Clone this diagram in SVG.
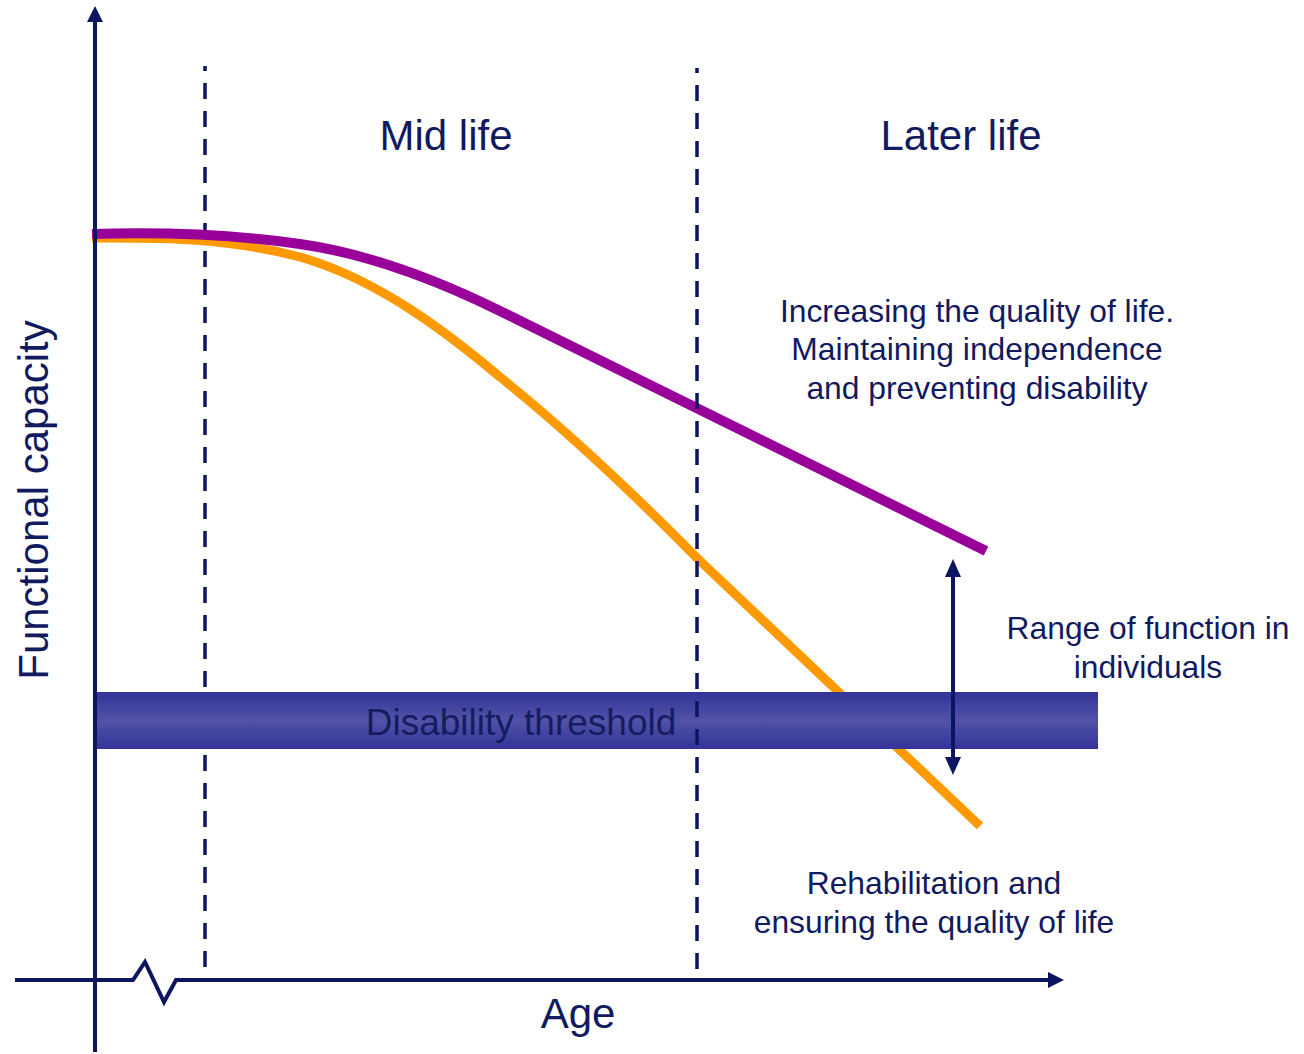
<svg xmlns="http://www.w3.org/2000/svg" width="1304" height="1054" viewBox="0 0 1304 1054">
  <style>
    .lbl { font-family: "Liberation Sans", Arial, sans-serif; fill: #111a5f; text-anchor: middle; }
    .big { font-size: 42px; }
    .mid { font-size: 31.8px; }
    .axis { stroke: #0c1660; stroke-width: 4; fill: none; }
    .dash { stroke: #0c1660; stroke-width: 3.5; stroke-dasharray: 16 12; stroke-dashoffset: 11; fill: none; }
    .head { fill: #0c1660; }
  </style>
  <defs>
    <linearGradient id="band" x1="0" y1="0" x2="0" y2="1">
      <stop offset="0" stop-color="#333399"/>
      <stop offset="0.5" stop-color="#5252a8"/>
      <stop offset="1" stop-color="#333399"/>
    </linearGradient>
  </defs>
  <rect width="1304" height="1054" fill="#ffffff"/>

  <g id="divider-left">
    <line class="dash" x1="205" y1="66" x2="205" y2="970"/>
  </g>

  <g id="curve-orange">
    <path d="M92,238 C150,238 220,236 300,257 C380,280 450,335 500,377 C560,425 620,480 697,558 L980,826" fill="none" stroke="#ff9900" stroke-width="9"/>
  </g>

  <g id="threshold">
    <rect x="94" y="692" width="1004" height="57" fill="url(#band)"/>
    <text class="lbl" x="521" y="735" font-size="37" style="fill:#151c60">Disability threshold</text>
  </g>

  <g id="curve-purple">
    <path d="M92,234 C160,232 230,234 300,244 C370,254 440,281.4 500,311 L986,551" fill="none" stroke="#990099" stroke-width="10"/>
  </g>

  <g id="divider-right">
    <line class="dash" x1="697" y1="68" x2="697" y2="972"/>
  </g>

  <g id="connectors">
    <g id="y-axis">
      <line class="axis" x1="95" y1="1052" x2="95" y2="19"/>
      <polygon class="head" points="95,6 87,22 103,22"/>
    </g>
    <g id="x-axis">
      <polyline class="axis" points="15,980 133,980 145,962 164,1002 176,980 1051,980"/>
      <polygon class="head" points="1064,980 1048,972 1048,988"/>
    </g>
    <g id="range-arrow">
      <line class="axis" x1="953" y1="574" x2="953" y2="760"/>
      <polygon class="head" points="953,559 945,577 961,577"/>
      <polygon class="head" points="953,775 945,757 961,757"/>
    </g>
  </g>

  <g id="label-midlife">
    <text class="lbl big" x="446" y="150">Mid life</text>
  </g>
  <g id="label-laterlife">
    <text class="lbl big" x="961" y="150">Later life</text>
  </g>
  <g id="label-yaxis">
    <text class="lbl big" transform="translate(48,500) rotate(-90)">Functional capacity</text>
  </g>
  <g id="label-xaxis">
    <text class="lbl big" x="578" y="1028">Age</text>
  </g>
  <g id="label-increasing">
    <text class="lbl mid" x="977" y="322">Increasing the quality of life.</text>
    <text class="lbl mid" x="977" y="360">Maintaining independence</text>
    <text class="lbl mid" x="977" y="399">and preventing disability</text>
  </g>
  <g id="label-range">
    <text class="lbl mid" x="1148" y="639">Range of function in</text>
    <text class="lbl mid" x="1148" y="678">individuals</text>
  </g>
  <g id="label-rehab">
    <text class="lbl mid" x="934" y="894">Rehabilitation and</text>
    <text class="lbl mid" x="934" y="933">ensuring the quality of life</text>
  </g>
</svg>
